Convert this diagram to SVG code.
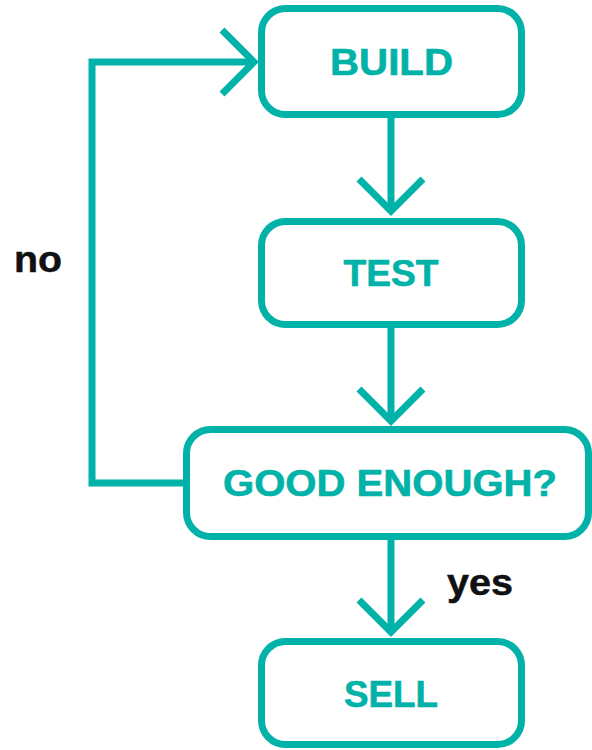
<svg xmlns="http://www.w3.org/2000/svg" width="592" height="750" viewBox="0 0 592 750">
<style>
.box{fill:#fff;stroke:#00B2A8;stroke-width:7}
.lbl{font-family:"Liberation Sans",Arial,sans-serif;font-weight:bold;font-size:36px;fill:#00B2A8;stroke:#00B2A8;stroke-width:0.6;text-anchor:middle}
.cond{font-family:"Liberation Sans",Arial,sans-serif;font-weight:bold;font-size:36px;fill:#111;stroke:#111;stroke-width:0.5}
.ln{fill:none;stroke:#00B2A8;stroke-width:7;stroke-linejoin:miter;stroke-linecap:butt}
</style>
<g id="connectors">
<path class="ln" d="M391,118 V211"/>
<path class="ln" d="M359,179 L391,211 L423,179"/>
<path class="ln" d="M391,328 V421"/>
<path class="ln" d="M359,389 L391,421 L423,389"/>
<path class="ln" d="M391,540 V632"/>
<path class="ln" d="M359,600 L391,632 L423,600"/>
<path class="ln" d="M183,483 H92 V62 H254"/>
<path class="ln" d="M222,30 L254,62 L222,94"/>
<text class="cond" x="14" y="272" textLength="48" lengthAdjust="spacingAndGlyphs">no</text>
<text class="cond" x="447" y="595" textLength="66" lengthAdjust="spacingAndGlyphs">yes</text>
</g>
<g id="build">
<rect class="box" x="261.5" y="8.5" width="260" height="106" rx="24"/>
<text class="lbl" x="391.5" y="75" textLength="123" lengthAdjust="spacingAndGlyphs">BUILD</text>
</g>
<g id="test">
<rect class="box" x="261.5" y="221.5" width="260" height="103" rx="24"/>
<text class="lbl" x="391" y="286" textLength="95" lengthAdjust="spacingAndGlyphs">TEST</text>
</g>
<g id="good">
<rect class="box" x="186.5" y="429.5" width="402" height="107" rx="24"/>
<text class="lbl" x="390" y="496" textLength="334" lengthAdjust="spacingAndGlyphs">GOOD ENOUGH?</text>
</g>
<g id="sell">
<rect class="box" x="261.5" y="641.5" width="260" height="103" rx="24"/>
<text class="lbl" x="391" y="707" textLength="94" lengthAdjust="spacingAndGlyphs">SELL</text>
</g>
</svg>
